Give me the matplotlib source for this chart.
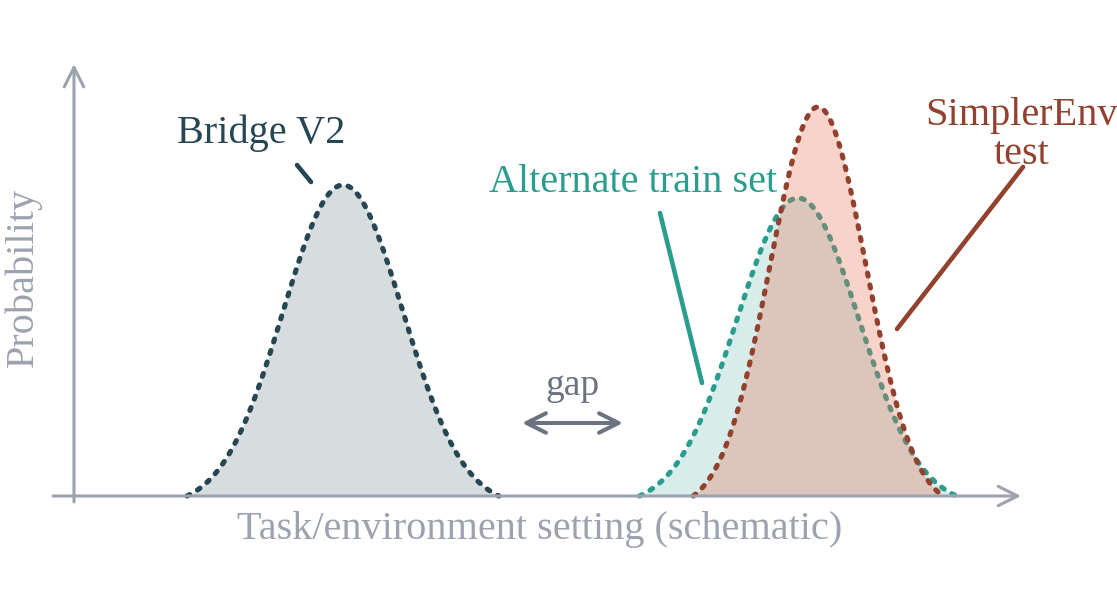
import numpy as np
import matplotlib
matplotlib.use("Agg")
import matplotlib.pyplot as plt

plt.rcParams['font.family'] = ['Liberation Serif', 'DejaVu Serif']

# schematic distributions: centre, spread, peak height
names = ['Bridge V2', 'Alternate train set', 'SimplerEnv\ntest']
centers = [343, 798, 818]
spreads = [60, 61, 48]
peaks = [311, 298, 389]
line_colors = ['#264653', '#2a9d8f', '#93412f']
fill_colors = ['#264653', '#2a9d8f', '#e76f51']
fill_alpha = [0.18, 0.18, 0.3]
cut = 2.6

axis_gray = '#9ca3af'
gap_gray = '#6b7280'

fig = plt.figure(figsize=(11.17, 6.0), dpi=100)
ax = fig.add_axes([0, 0, 1, 1])
ax.set_xlim(0, 1117)
ax.set_ylim(-104, 496)
ax.axis('off')

# each series drawn on top of the previous one (fill covers earlier dotted lines)
for i, (mu, sd, h, lc, fc, fa) in enumerate(zip(centers, spreads, peaks, line_colors,
                                                 fill_colors, fill_alpha)):
    x = np.linspace(mu - cut * sd, mu + cut * sd, 400)
    g = np.exp(-0.5 * ((x - mu) / sd) ** 2)
    g_end = np.exp(-0.5 * cut ** 2)
    y = h * (g - g_end) / (1 - g_end)
    ax.fill_between(x, 0, y, color=fc, alpha=fa, lw=0, zorder=2 + 2 * i)
    ax.plot(x, y, color=lc, lw=3.7, ls=(0, (0.6, 1.75)), dash_capstyle='round',
            zorder=3 + 2 * i)

# axes with arrow heads
arrow = dict(arrowstyle='->,head_length=0.7,head_width=0.35', color=axis_gray, lw=2.2,
             mutation_scale=20, shrinkA=0, shrinkB=0)
ax.annotate('', xy=(1021, 0), xytext=(53, 0), arrowprops=arrow, zorder=10)
ax.annotate('', xy=(74, 432), xytext=(74, -6), arrowprops=arrow, zorder=10)

ax.text(540, -34, 'Task/environment setting (schematic)', fontsize=29, color=axis_gray,
        ha='center', va='center')
ax.text(23, 219, 'Probability', fontsize=29, color=axis_gray, rotation=90,
        ha='center', va='center')

# gap marker
ax.annotate('', xy=(522, 73), xytext=(623, 73),
            arrowprops=dict(arrowstyle='<->,head_length=0.7,head_width=0.35', color=gap_gray,
                            lw=2.9, mutation_scale=20, shrinkA=0, shrinkB=0))
ax.text(572, 110, 'gap', fontsize=27, color=gap_gray, ha='center', va='center')

# labels with leader lines
ax.text(261, 363, names[0], fontsize=29, color=line_colors[0], ha='center', va='center')
ax.plot([297, 311], [331, 314], color=line_colors[0], lw=3.3, solid_capstyle='round')

ax.text(633, 313, names[1], fontsize=29, color=line_colors[1], ha='center', va='center')
ax.plot([660, 702], [283, 113], color=line_colors[1], lw=3.3, solid_capstyle='round')

ax.text(1022, 361, names[2], fontsize=29, color=line_colors[2], ha='center', va='center',
        linespacing=1.1)
ax.plot([1023, 897], [329, 167], color=line_colors[2], lw=3.3, solid_capstyle='round')

fig.savefig('out.png', dpi=100)
